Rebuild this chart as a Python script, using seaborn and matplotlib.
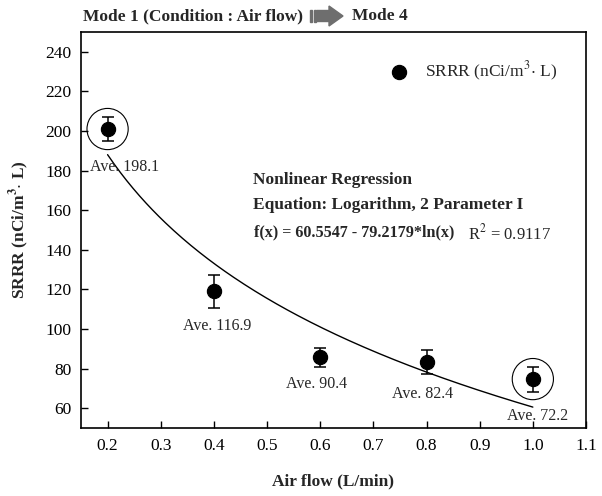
import matplotlib
matplotlib.use("Agg")
import matplotlib.pyplot as plt
from matplotlib.patches import FancyArrow, Rectangle
import numpy as np
import pandas as pd
import seaborn as sns

air_flow = [0.2, 0.4, 0.6, 0.8, 1.0]
srrr = [201.0, 119.0, 85.8, 83.3, 74.7]
srrr_err = [6.0, 8.3, 4.8, 6.2, 6.3]
ave_labels = ["Ave. 198.1", "Ave. 116.9", "Ave. 90.4", "Ave. 82.4", "Ave. 72.2"]
label_x = [0.232, 0.406, 0.594, 0.792, 1.009]
label_y = [181.8, 101.5, 72.1, 67.1, 56.0]
circled = [0, 4]

# fitted model printed on the chart
fit_a = 60.5547
fit_b = 79.2179
r_squared = 0.9117

sns.set_style("ticks")
plt.rcParams['font.family'] = ['Liberation Serif', 'DejaVu Serif']
plt.rcParams['mathtext.fontset'] = 'stix'

fig, ax = plt.subplots(figsize=(6.02, 4.96), dpi=100)
fig.subplots_adjust(left=81/602, right=586/602, top=1-32/496, bottom=1-428/496)

df = pd.DataFrame({"flow": air_flow, "srrr": srrr, "err": srrr_err})

# regression curve
xs = np.linspace(min(air_flow), max(air_flow), 200)
curve = pd.DataFrame({"flow": xs, "fit": fit_a - fit_b * np.log(xs)})
sns.lineplot(data=curve, x="flow", y="fit", color="black", linewidth=1.0, ax=ax)

ax.errorbar(df["flow"], df["srrr"], yerr=df["err"], fmt="none", ecolor="black",
            elinewidth=1.1, capsize=4.5, capthick=1.1, zorder=3)
sns.scatterplot(data=df, x="flow", y="srrr", color="black", s=105, edgecolor="black",
                zorder=4, label="SRRR (nCi/m$^3$$\\cdot$ L)", ax=ax)

# circles around first and last points
ax.scatter([air_flow[i] for i in circled], [srrr[i] for i in circled], s=880,
           facecolors="none", edgecolors="black", linewidths=0.8, zorder=2)

for lx, ly, t in zip(label_x, label_y, ave_labels):
    ax.text(lx, ly, t, ha="center", va="center", fontsize=11.5)

ax.set_xlim(0.15, 1.1)
ax.set_ylim(50, 250)
ax.set_xticks(np.arange(0.2, 1.11, 0.1))
ax.set_xticklabels(["0.2", "0.3", "0.4", "0.5", "0.6", "0.7", "0.8", "0.9", "1.0", "1.1"])
ax.set_yticks(np.arange(60, 241, 20))
ax.tick_params(direction="in", length=5, width=1, labelsize=12.5, colors="black", pad=7)
for s in ax.spines.values():
    s.set_linewidth(1.2)
    s.set_color("black")

ax.set_xlabel("Air flow (L/min)", fontsize=12.5, fontweight="bold", labelpad=14)
ax.set_ylabel("SRRR (nCi/m$^\\mathbf{3}$$\\cdot$ L)", fontsize=12.5, fontweight="bold", labelpad=10)

leg = ax.legend(loc="center left", bbox_to_anchor=((366-81)/505, 1-(71-32)/396),
                frameon=False, fontsize=12.5, handletextpad=0.5, markerscale=1.0)

# regression annotation
fig.text(253/602, 1-180/496, "Nonlinear Regression", fontsize=12.5, fontweight="bold", va="center")
fig.text(253/602, 1-205/496, "Equation: Logarithm, 2 Parameter I", fontsize=12.5,
         fontweight="bold", va="center")
fig.text(254/602, 1-232/496, "f(x) = %.4f - %.4f*ln(x)" % (fit_a, fit_b), fontsize=11.6,
         fontweight="bold", va="center")
fig.text(468/602, 1-233/496, "R$^2$ = %.4f" % r_squared, fontsize=12, va="center")

# header with arrow
fig.text(83/602, 1-16/496, "Mode 1 (Condition : Air flow)", fontsize=12.5, fontweight="bold", va="center")
fig.text(352/602, 1-16/496, "Mode 4", fontsize=12.5, fontweight="bold", va="center")
gray = "#6e6e6e"
for x0 in [3.10, 3.135]:
    fig.patches.append(Rectangle((x0, 4.745), 0.02, 0.11, color=gray, transform=fig.dpi_scale_trans))
fig.patches.append(FancyArrow(3.17, 4.80, 0.26, 0, width=0.11, head_width=0.2, head_length=0.14,
                              length_includes_head=True, color=gray, transform=fig.dpi_scale_trans))

fig.savefig("out.png", dpi=100)
